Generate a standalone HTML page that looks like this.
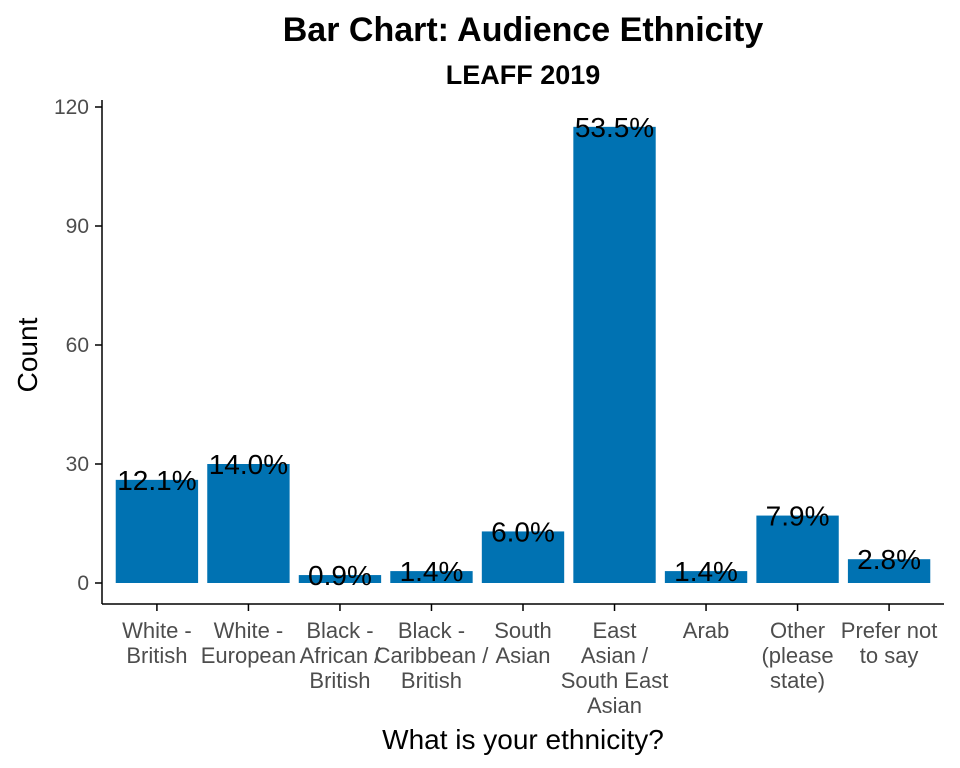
<!DOCTYPE html>
<html><head><meta charset="utf-8"><style>
body{margin:0;background:#fff;}
svg{display:block;font-family:"Liberation Sans",Arial,sans-serif;}
</style></head><body>
<svg id="chart" width="960" height="768" viewBox="0 0 960 768">
<text x="523" y="41" text-anchor="middle" font-size="34" font-weight="bold" fill="#000">Bar Chart: Audience Ethnicity</text>
<text x="523" y="84" text-anchor="middle" font-size="27" font-weight="bold" fill="#000">LEAFF 2019</text>
<g id="bars"></g>
<g id="axes"></g>
<text x="523" y="749" text-anchor="middle" font-size="28" fill="#000">What is your ethnicity?</text>
<text transform="translate(37,355) rotate(-90)" text-anchor="middle" font-size="28" fill="#000">Count</text>
</svg>
<script>
const categories=[["White -","British"],["White -","European"],["Black -","African /","British"],["Black -","Caribbean /","British"],["South","Asian"],["East","Asian /","South East","Asian"],["Arab"],["Other","(please","state)"],["Prefer not","to say"]];
const counts=[26,30,2,3,13,115,3,17,6];
const pctLabels=["12.1%","14.0%","0.9%","1.4%","6.0%","53.5%","1.4%","7.9%","2.8%"];
const yTicks=[0,30,60,90,120];
const NS="http://www.w3.org/2000/svg";
const y0=583,yTop=107,yMax=120,xL=102,xR=944;
const yS=v=>y0-(y0-yTop)*v/yMax;
const unit=(xR-xL)/(categories.length+0.2);
const xS=i=>xL+(i+0.6)*unit;
const bw=unit*0.9;
function mk(tag,attrs){const e=document.createElementNS(NS,tag);for(const k in attrs)e.setAttribute(k,attrs[k]);return e;}
const bars=document.getElementById('bars'),axes=document.getElementById('axes');
counts.forEach((c,i)=>{
 const r=mk('rect',{x:xS(i)-bw/2,y:yS(c),width:bw,height:y0-yS(c),fill:'#0072b2'});
 
 
 bars.appendChild(r);
 const t=mk('text',{x:xS(i),y:yS(c)+10,'text-anchor':'middle','font-size':28,fill:'#000'});
 t.textContent=pctLabels[i];
 
 
 bars.appendChild(t);
 const lbl=mk('text',{'text-anchor':'middle','font-size':22,fill:'#4d4d4d'});
 
 
 categories[i].forEach((ln,j)=>{const ts=mk('tspan',{x:xS(i),y:638+j*25});ts.textContent=ln;lbl.appendChild(ts);});
 axes.appendChild(lbl);
 const tk=mk('line',{x1:xS(i),x2:xS(i),y1:604,y2:611,stroke:'#000','stroke-width':1.5});
 
 
 axes.appendChild(tk);
});
yTicks.forEach(v=>{
 const tk=mk('line',{x1:95,x2:102,y1:yS(v),y2:yS(v),stroke:'#000','stroke-width':1.5});
 
 
 axes.appendChild(tk);
 const t=mk('text',{x:89,y:yS(v)+7,'text-anchor':'end','font-size':21,fill:'#4d4d4d'});
 t.textContent=v;
 
 
 axes.appendChild(t);
});
const xa=mk('line',{x1:xL,x2:xR,y1:604,y2:604,stroke:'#000','stroke-width':1.5});


axes.appendChild(xa);
const ya=mk('line',{x1:xL,x2:xL,y1:100,y2:604,stroke:'#000','stroke-width':1.5});


axes.appendChild(ya);
</script>
</body></html>
